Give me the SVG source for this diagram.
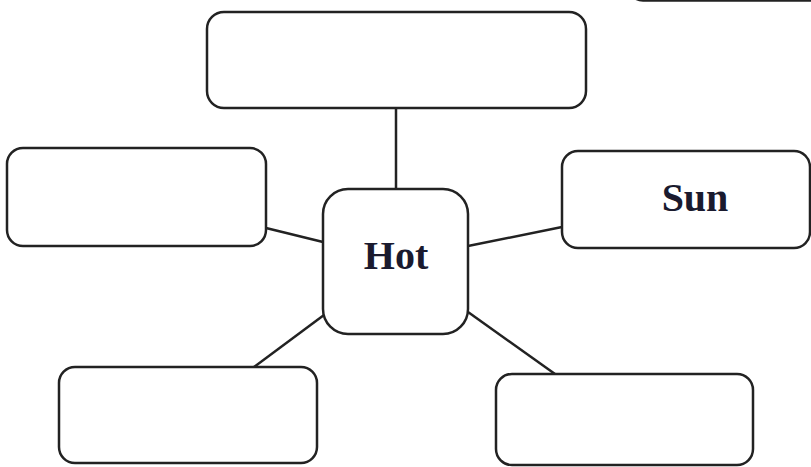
<svg xmlns="http://www.w3.org/2000/svg" width="811" height="467" viewBox="0 0 811 467">
<style>
.box{fill:#fff;stroke:#222;stroke-width:2.5}
.con line{stroke:#222;stroke-width:2.5}
.lbl{font-family:"Liberation Serif","Times New Roman",serif;font-weight:bold;font-size:40px;fill:#1a1a2e;text-anchor:middle}
</style>
<rect width="811" height="467" fill="#fff"/>
<g id="connectors" class="con">
<line x1="396" y1="108" x2="396" y2="190"/>
<line x1="266" y1="228" x2="323" y2="242"/>
<line x1="468" y1="246" x2="562" y2="227"/>
<line x1="324" y1="315" x2="254" y2="367"/>
<line x1="468" y1="312" x2="555" y2="374"/>
</g>
<g id="node-partial"><rect class="box" x="628" y="-100" width="200" height="100.5" rx="15"/></g>
<g id="node-top"><rect class="box" x="207" y="12" width="379" height="96" rx="17"/></g>
<g id="node-left"><rect class="box" x="7" y="148" width="259" height="98" rx="16"/></g>
<g id="node-sun"><rect class="box" x="562" y="151" width="248" height="97" rx="16"/><text class="lbl" x="695" y="211">Sun</text></g>
<g id="node-hot"><rect class="box" x="323" y="189" width="145" height="145" rx="25"/><text class="lbl" x="396" y="269">Hot</text></g>
<g id="node-bl"><rect class="box" x="59" y="367" width="258" height="96" rx="16"/></g>
<g id="node-br"><rect class="box" x="496" y="374" width="257" height="91" rx="16"/></g>
</svg>
